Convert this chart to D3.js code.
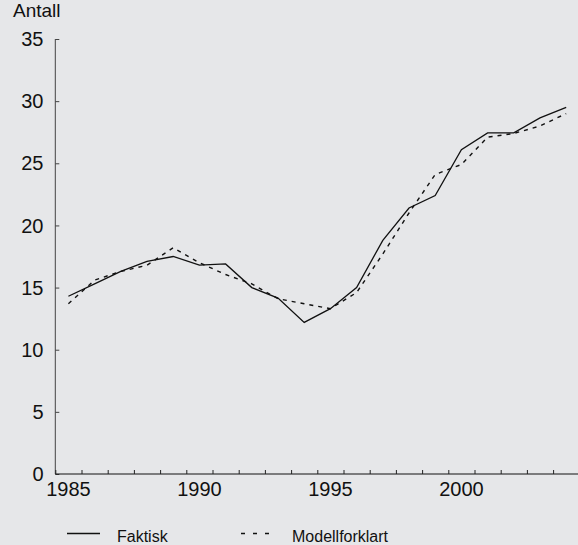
<!DOCTYPE html>
<html>
<head>
<meta charset="utf-8">
<script src="https://cdn.jsdelivr.net/npm/d3@7"></script>
<style>
  html, body { margin: 0; padding: 0; background: #e6e7e9; }
  svg { display: block; font-family: "Liberation Sans", Arial, sans-serif; }
</style>
</head>
<body>
<div id="chart"></div>
<script>
const years = d3.range(1985, 2005);
const faktisk = [14.3, 15.3, 16.3, 17.1, 17.5, 16.8, 16.9, 15.0, 14.15, 12.2, 13.3, 15.0, 18.8, 21.4, 22.4, 26.1, 27.45, 27.45, 28.65, 29.5];
const modell = [13.7, 15.6, 16.3, 16.8, 18.2, 17.0, 16.05, 15.3, 14.1, 13.7, 13.3, 14.6, 17.7, 21.0, 24.1, 24.9, 27.1, 27.4, 28.0, 29.0];
const yTicks = [0, 5, 10, 15, 20, 25, 30, 35];
const xLabels = [1985, 1990, 1995, 2000];
const seriesNames = ["Faktisk", "Modellforklart"];

const width = 578, height = 545;

const svg = d3.select('#chart').append('svg')
    .attr('width', width)
    .attr('height', height);

const x = d3.scaleLinear().domain([1984.5, 2004.5]).range([55.3, 579.3]);
const y = d3.scaleLinear().domain([0, 35]).range([474, 39]);

// y axis
const yAxis = svg.append('g')
    .attr('transform', `translate(${x(1984.5)},0)`)
    .call(d3.axisRight(y).tickValues(yTicks).tickSize(4).tickFormat(''));
yAxis.select('.domain').attr('stroke', '#444').attr('d', `M0,${y(35)}V${y(0)}`);
yAxis.selectAll('.tick line').attr('stroke', '#444');

svg.append('g').selectAll('text')
    .data(yTicks)
    .join('text')
    .attr('x', 43.5)
    .attr('y', d => y(d))
    .attr('dy', '0.36em')
    .attr('text-anchor', 'end')
    .attr('font-size', 20)
    .attr('fill', '#111')
    .text(d => d);

// x axis
const xAxis = svg.append('g')
    .attr('transform', `translate(0,${y(0)})`)
    .call(d3.axisTop(x).tickValues(d3.range(1984.5, 2005, 1)).tickSize(4).tickFormat(''));
xAxis.select('.domain').attr('stroke', '#111').attr('d', `M${x(1984.5)},0H${width}`);
xAxis.selectAll('.tick line').attr('stroke', '#222');

svg.append('g').selectAll('text')
    .data(xLabels)
    .join('text')
    .attr('x', d => x(d))
    .attr('y', 496)
    .attr('text-anchor', 'middle')
    .attr('font-size', 20)
    .attr('fill', '#111')
    .text(d => d);

svg.append('text')
    .attr('x', 13)
    .attr('y', 17)
    .attr('font-size', 19)
    .attr('fill', '#111')
    .text('Antall');

// lines
const line = d3.line()
    .x((d, i) => x(years[i]))
    .y(d => y(d));

svg.append('path')
    .datum(modell)
    .attr('fill', 'none')
    .attr('stroke', '#111')
    .attr('stroke-width', 1.4)
    .attr('stroke-dasharray', '4,5')
    .attr('d', line);

svg.append('path')
    .datum(faktisk)
    .attr('fill', 'none')
    .attr('stroke', '#111')
    .attr('stroke-width', 1.3)
    .attr('d', line);

// legend
const legend = svg.append('g');
legend.append('line')
    .attr('x1', 67).attr('x2', 100)
    .attr('y1', 533.5).attr('y2', 533.5)
    .attr('stroke', '#111').attr('stroke-width', 1.3);
legend.append('line')
    .attr('x1', 241).attr('x2', 269)
    .attr('y1', 533.5).attr('y2', 533.5)
    .attr('stroke', '#111').attr('stroke-width', 1.3)
    .attr('stroke-dasharray', '4,8');
legend.selectAll('text')
    .data(seriesNames)
    .join('text')
    .attr('x', (d, i) => i === 0 ? 117 : 292)
    .attr('y', 542)
    .attr('font-size', 16)
    .attr('fill', '#111')
    .text(d => d);
</script>
</body>
</html>
